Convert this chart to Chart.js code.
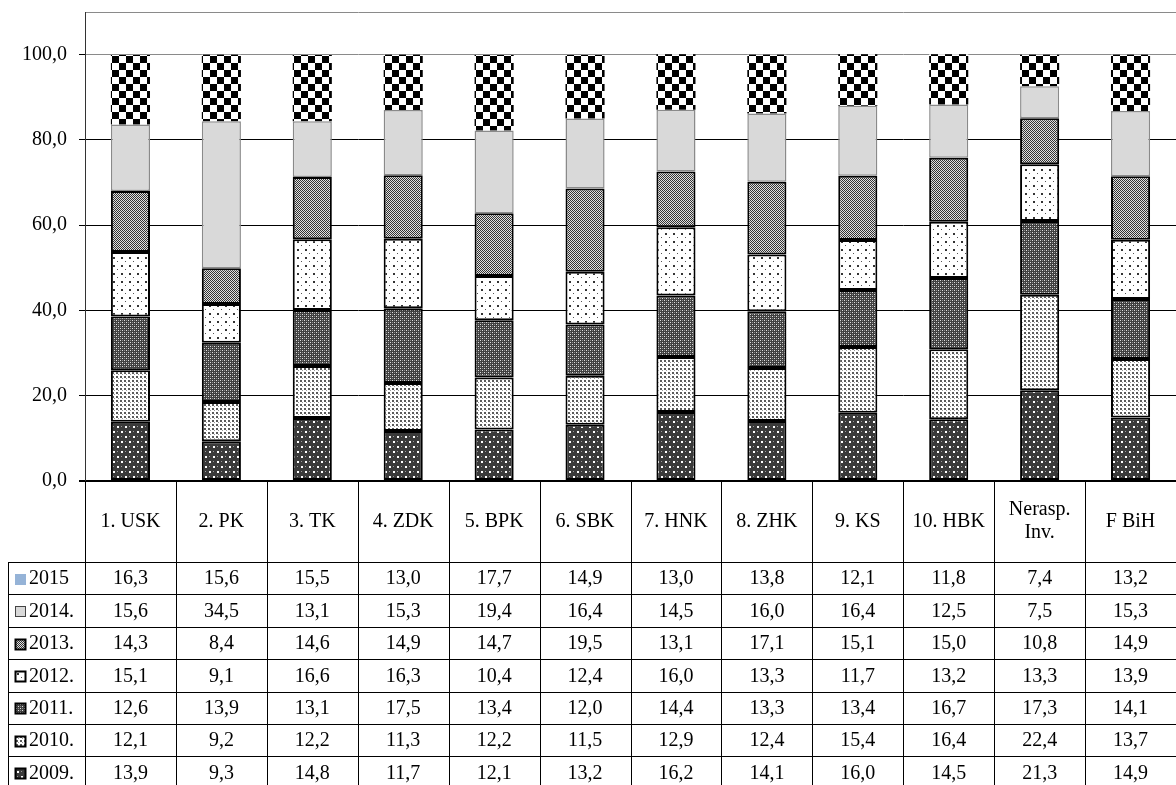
<!DOCTYPE html>
<html>
<head>
<meta charset="utf-8">
<script src="https://cdn.jsdelivr.net/npm/chart.js@4.4.1/dist/chart.umd.min.js"></script>
<style>
  html, body { margin: 0; padding: 0; background: #fff; }
  #wrap { width: 1176px; height: 785px; position: relative; }
</style>
</head>
<body>
<div id="wrap"><canvas id="chart" width="1176" height="785"></canvas></div>
<script>
// chart data
const categories = [['1. USK'], ['2. PK'], ['3. TK'], ['4. ZDK'], ['5. BPK'], ['6. SBK'],
  ['7. HNK'], ['8. ZHK'], ['9. KS'], ['10. HBK'], ['Nerasp.', 'Inv.'], ['F BiH']];
const years = ['2009.', '2010.', '2011.', '2012.', '2013.', '2014.', '2015'];
const v2009 = [13.9, 9.3, 14.8, 11.7, 12.1, 13.2, 16.2, 14.1, 16.0, 14.5, 21.3, 14.9];
const v2010 = [12.1, 9.2, 12.2, 11.3, 12.2, 11.5, 12.9, 12.4, 15.4, 16.4, 22.4, 13.7];
const v2011 = [12.6, 13.9, 13.1, 17.5, 13.4, 12.0, 14.4, 13.3, 13.4, 16.7, 17.3, 14.1];
const v2012 = [15.1, 9.1, 16.6, 16.3, 10.4, 12.4, 16.0, 13.3, 11.7, 13.2, 13.3, 13.9];
const v2013 = [14.3, 8.4, 14.6, 14.9, 14.7, 19.5, 13.1, 17.1, 15.1, 15.0, 10.8, 14.9];
const v2014 = [15.6, 34.5, 13.1, 15.3, 19.4, 16.4, 14.5, 16.0, 16.4, 12.5, 7.5, 15.3];
const v2015 = [16.3, 15.6, 15.5, 13.0, 17.7, 14.9, 13.0, 13.8, 12.1, 11.8, 7.4, 13.2];
const yTicks = [0, 20, 40, 60, 80, 100];
const yMax = 110;

const FONT = 'Liberation Serif, Times New Roman, serif';
const canvas = document.getElementById('chart');
const mainCtx = canvas.getContext('2d');

// small tile -> repeating pattern
function makePattern(w, h, draw) {
  const c = document.createElement('canvas');
  c.width = w; c.height = h;
  const g = c.getContext('2d');
  draw(g);
  return mainCtx.createPattern(c, 'repeat');
}

const pat2009 = makePattern(8, 10, g => {
  g.fillStyle = '#3a3a3a'; g.fillRect(0, 0, 8, 10);
  g.fillStyle = '#ffffff'; g.fillRect(1, 1, 2, 2); g.fillRect(5, 6, 2, 2);
  g.fillStyle = '#9a9a9a'; g.fillRect(5, 1, 1, 1); g.fillRect(1, 6, 1, 1);
});
const pat2010 = makePattern(4, 4, g => {
  g.fillStyle = '#ffffff'; g.fillRect(0, 0, 4, 4);
  g.fillStyle = '#5a5a5a'; g.fillRect(0, 0, 2, 2);
  g.fillStyle = '#9a9a9a'; g.fillRect(2, 2, 1, 1);
});
const pat2011 = makePattern(4, 4, g => {
  g.fillStyle = '#404040'; g.fillRect(0, 0, 4, 4);
  g.fillStyle = '#e0e0e0'; g.fillRect(0, 0, 1, 1); g.fillRect(2, 2, 1, 1);
  g.fillStyle = '#8c8c8c'; g.fillRect(2, 0, 1, 1); g.fillRect(0, 2, 1, 1);
});
const pat2012 = makePattern(8, 8, g => {
  g.fillStyle = '#ffffff'; g.fillRect(0, 0, 8, 8);
  g.fillStyle = '#333333'; g.fillRect(1, 1, 2, 2);
  g.fillStyle = '#555555'; g.fillRect(5, 5, 1, 1);
});
const pat2013 = makePattern(2, 2, g => {
  g.fillStyle = '#e0e0e0'; g.fillRect(0, 0, 2, 2);
  g.fillStyle = '#333333'; g.fillRect(0, 0, 1, 1); g.fillRect(1, 1, 1, 1);
});
const pat2015 = makePattern(14, 14, g => {
  g.fillStyle = '#ffffff'; g.fillRect(0, 0, 14, 14);
  g.fillStyle = '#000000'; g.fillRect(0, 0, 7, 7); g.fillRect(7, 7, 7, 7);
});

const series = [v2009, v2010, v2011, v2012, v2013, v2014, v2015];
const fills = [pat2009, pat2010, pat2011, pat2012, pat2013, '#d9d9d9', pat2015];
const borders = ['#000', '#000', '#000', '#000', '#000', '#8a8a8a', 'rgba(0,0,0,0)'];
const borderWidths = [2, 2, 2, 2, 2, 1.5, 0];
// legend keys inside the data table (2015 shows a plain blue key)
const keyFills = [pat2009, pat2010, pat2011, pat2012, pat2013, '#d9d9d9', '#95b3d7'];
const keyBorders = ['#000', '#000', '#000', '#000', '#000', '#444', null];

const fmt = v => v.toFixed(1).replace('.', ',');

const tablePlugin = {
  id: 'dataTable',
  afterDraw(chart) {
    const { ctx, chartArea } = chart;
    const top = chartArea.bottom;
    const left = chartArea.left;
    const colW = (chartArea.right - chartArea.left) / categories.length;
    const headerH = 81;
    const rowH = 32.4;
    const tableLeft = 8;
    const bottom = chart.height;
    const snap = v => Math.round(v) + 0.5;

    ctx.save();
    ctx.strokeStyle = '#000';
    ctx.lineWidth = 1;
    ctx.beginPath();
    // vertical separators
    for (let i = 0; i < categories.length; i++) {
      const xx = snap(left + i * colW);
      ctx.moveTo(xx, top); ctx.lineTo(xx, bottom);
    }
    ctx.moveTo(snap(tableLeft), top + headerH); ctx.lineTo(snap(tableLeft), bottom);
    // horizontal separators
    for (let r = 0; r <= years.length; r++) {
      const yy = snap(top + headerH + r * rowH);
      if (yy > bottom) break;
      ctx.moveTo(tableLeft, yy); ctx.lineTo(chartArea.right, yy);
    }
    ctx.stroke();

    ctx.fillStyle = '#000';
    ctx.font = '20px ' + FONT;
    ctx.textAlign = 'center';
    ctx.textBaseline = 'middle';
    // header labels
    categories.forEach((lab, i) => {
      const cx = left + (i + 0.5) * colW;
      const cy = top + headerH / 2;
      lab.forEach((line, k) => {
        ctx.fillText(line, cx, cy + (k - (lab.length - 1) / 2) * 23);
      });
    });
    // data rows, newest year on top
    for (let r = 0; r < years.length; r++) {
      const s = years.length - 1 - r;
      const cy = top + headerH + r * rowH + rowH / 2 + 1;
      // legend key
      const kx = 15, ks = 11, ky = Math.round(cy - ks / 2);
      ctx.fillStyle = keyFills[s];
      ctx.fillRect(kx, ky, ks, ks);
      if (keyBorders[s]) {
        ctx.strokeStyle = keyBorders[s];
        ctx.lineWidth = keyBorders[s] === '#000' ? 2 : 1;
        ctx.strokeRect(kx + 0.5, ky + 0.5, ks - 1, ks - 1);
      }
      ctx.fillStyle = '#000';
      ctx.textAlign = 'left';
      ctx.fillText(years[s], 29, cy);
      ctx.textAlign = 'center';
      series[s].forEach((v, i) => {
        ctx.fillText(fmt(v), left + (i + 0.5) * colW, cy);
      });
    }
    ctx.restore();
  }
};

new Chart(canvas, {
  type: 'bar',
  data: {
    labels: categories.map(c => c.join(' ')),
    datasets: years.map((y, s) => ({
      label: y,
      data: series[s],
      backgroundColor: fills[s],
      borderColor: borders[s],
      borderWidth: borderWidths[s],
      borderSkipped: false,
      categoryPercentage: 1,
      barPercentage: 0.43
    }))
  },
  options: {
    responsive: false,
    animation: false,
    devicePixelRatio: 1,
    layout: { padding: { top: 12, bottom: 304, left: 0, right: 0 } },
    plugins: { legend: { display: false }, tooltip: { enabled: false } },
    scales: {
      x: { stacked: true, display: false },
      y: {
        stacked: true,
        min: 0,
        max: yMax,
        afterBuildTicks: scale => { scale.ticks = yTicks.concat([yMax]).map(v => ({ value: v })); },
        afterFit: scale => {
          scale.width = 85;
          scale.paddingTop = 0;
          scale.paddingBottom = 0;
        },
        ticks: {
          color: '#000',
          font: { family: FONT, size: 20 },
          padding: 12,
          callback: v => (v === yMax ? '' : fmt(v))
        },
        grid: {
          color: c => (c.tick && c.tick.value >= 100 ? '#8a8a8a' : '#000'),
          lineWidth: c => (c.tick && c.tick.value === 0 ? 2 : 1),
          tickLength: 6,
          tickColor: c => (c.tick && c.tick.value === yMax ? 'rgba(0,0,0,0)' : '#000')
        },
        border: { color: '#333', width: 1 }
      }
    }
  },
  plugins: [tablePlugin]
});
</script>
</body>
</html>
